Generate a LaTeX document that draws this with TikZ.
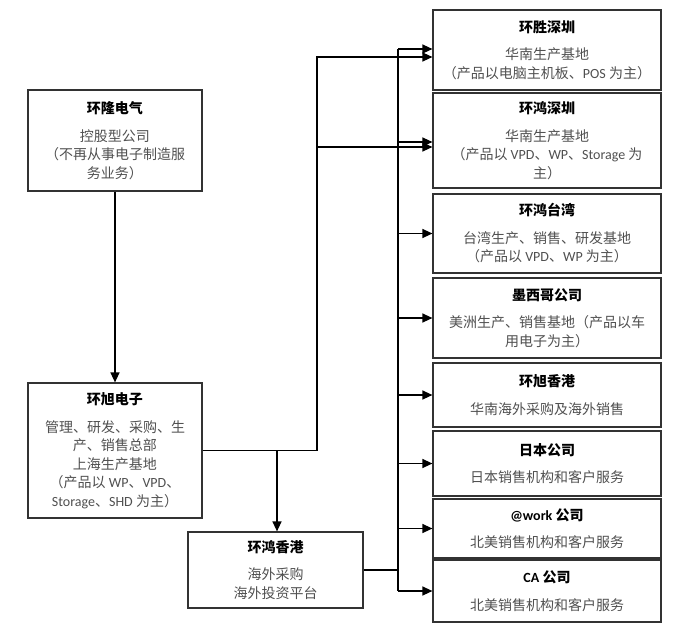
\documentclass[tikz,border=0pt]{standalone}
\usepackage{fontspec}
\setmainfont{Noto Sans CJK SC}
\newfontfamily\lat{Carlito}
\usetikzlibrary{arrows.meta}
\definecolor{bodygray}{RGB}{80,80,80}
\definecolor{edgegray}{RGB}{50,50,50}
\newcommand{\ttl}[1]{{\bfseries #1}\\[9pt]}
\tikzset{
  box/.style={draw=edgegray, line width=1.2pt, align=center, inner sep=2pt,
    font=\fontsize{14}{18.5}\selectfont, text=bodygray},
  rbox/.style={box, minimum width=228pt},
  lbox/.style={box, minimum width=174pt},
  conn/.style={draw=black, line width=1.3pt},
  arr/.style={conn, -{Triangle[length=10pt,width=9pt]}}
}
\begin{document}
\begin{tikzpicture}[x=1pt,y=-1pt]
\useasboundingbox[fill=white] (0,0) rectangle (680,634);

% left column
\node[lbox, minimum height=101pt] (A) at (115,140.5)
  {\ttl{\color{black}环隆电气}控股型公司\\（不再从事电子制造服\\务业务）};
\node[lbox, minimum height=135pt] (B) at (115,450.5)
  {\ttl{\color{black}环旭电子}管理、研发、采购、生\\产、销售总部\\上海生产基地\\（产品以 {\lat WP}、{\lat VPD}、\\{\lat Storage}、{\lat SHD} 为主）};
\node[box, minimum width=175pt, minimum height=76pt] (C) at (275.5,570)
  {\ttl{\color{black}环鸿香港}海外采购\\海外投资平台};

% right column
\node[rbox, minimum height=80pt] (R1) at (547,50)
  {\ttl{\color{black}环胜深圳}华南生产基地\\（产品以电脑主机板、{\lat POS} 为主）};
\node[rbox, minimum height=95pt] (R2) at (547,140.5)
  {\ttl{\color{black}环鸿深圳}华南生产基地\\（产品以 {\lat VPD}、{\lat WP}、{\lat Storage} 为\\主）};
\node[rbox, minimum height=79pt] (R3) at (547,233.5)
  {\ttl{\color{black}环鸿台湾}台湾生产、销售、研发基地\\（产品以 {\lat VPD}、{\lat WP} 为主）};
\node[rbox, minimum height=80pt] (R4) at (547,318)
  {\ttl{\color{black}墨西哥公司}美洲生产、销售基地（产品以车\\用电子为主）};
\node[rbox, minimum height=64pt] (R5) at (547,395)
  {\ttl{\color{black}环旭香港}华南海外采购及海外销售};
\node[rbox, minimum height=65pt] (R6) at (547,463.5)
  {\ttl{\color{black}日本公司}日本销售机构和客户服务};
\node[rbox, minimum height=59pt] (R7) at (547,528.5)
  {\ttl{\color{black}{\lat @work} 公司}北美销售机构和客户服务};
\node[rbox, minimum height=62pt] (R8) at (547,591)
  {\ttl{\color{black}{\lat CA} 公司}北美销售机构和客户服务};

% junction coordinates
\coordinate (p1) at (317,450.5);
\coordinate (p2) at (277,450.5);
\coordinate (p3) at (398,570);

% connectors
\draw[arr] (A.south) -- (B.north);
\draw[conn] (B.east) -- (p1);
\draw[arr] (p2) -- (p2 |- C.north);
\draw[arr] (p1) |- ([yshift=-7pt]R1.west);
\draw[arr] (p1) |- ([yshift=-6.5pt]R2.west);

\draw[conn] (C.east) -- (p3);
\draw[conn] ([yshift=1pt]R1.west -| p3) -- (R8.west -| p3);
\draw[arr] ([yshift=1pt]R1.west -| p3) -- ([yshift=1pt]R1.west);
\draw[arr] ([yshift=-1.5pt]R2.west -| p3) -- ([yshift=-1.5pt]R2.west);
\draw[arr] (R3.west -| p3) -- (R3.west);
\draw[arr] (R4.west -| p3) -- (R4.west);
\draw[arr] (R5.west -| p3) -- (R5.west);
\draw[arr] (R6.west -| p3) -- (R6.west);
\draw[arr] (R7.west -| p3) -- (R7.west);
\draw[arr] (R8.west -| p3) -- (R8.west);
\end{tikzpicture}
\end{document}
